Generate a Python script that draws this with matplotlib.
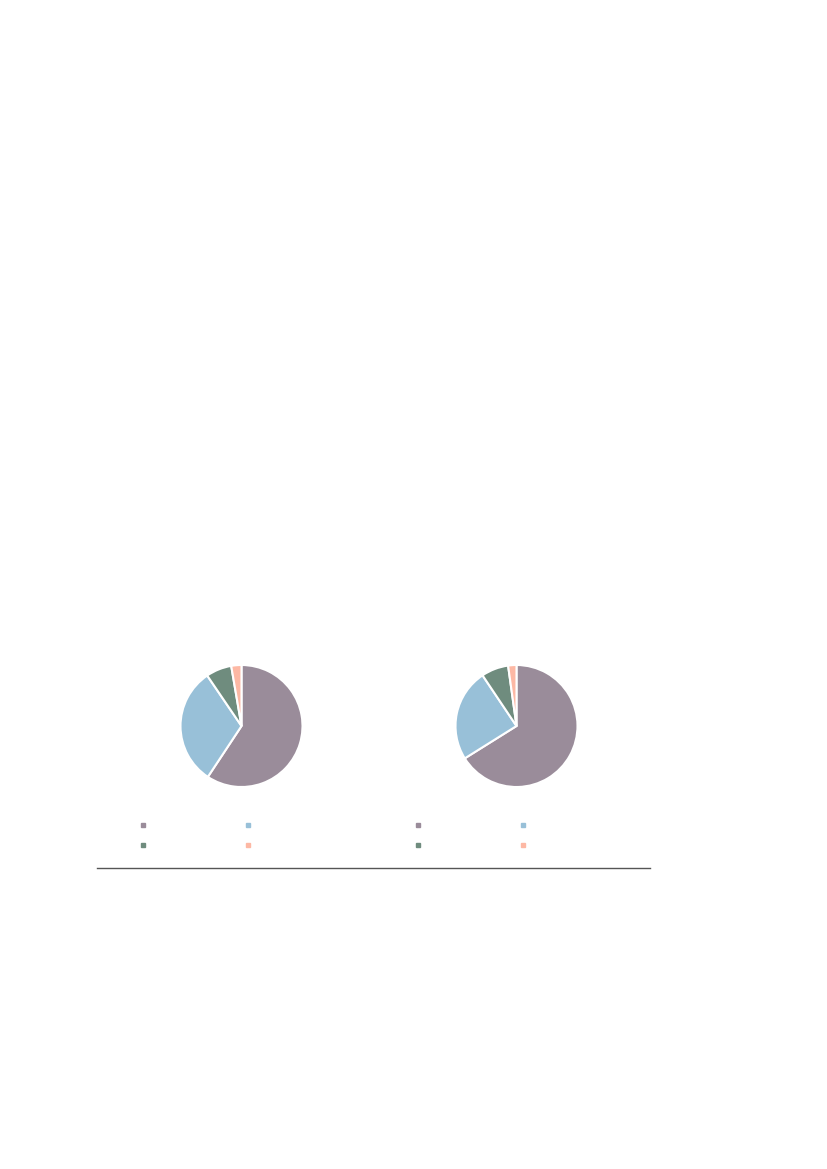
import matplotlib
matplotlib.use("Agg")
import matplotlib.pyplot as plt
from matplotlib.lines import Line2D

# slice shares (%), clockwise from 12 o'clock
categories = ["", "", "", ""]
left_shares = [59.3, 31.2, 6.8, 2.7]
right_shares = [66.1, 24.5, 7.2, 2.2]
colors = ["#9a8c9a", "#98c0d8", "#6f8c7e", "#fdb8a4"]

W, H = 827, 1169
fig = plt.figure(figsize=(W / 100, H / 100), dpi=100)


def px_axes(x0, y0, w, h):
    # axes from pixel box (top-left origin)
    return fig.add_axes([x0 / W, 1 - (y0 + h) / H, w / W, h / H])


def draw_pie(cx, cy, shares):
    r = 61
    ax = px_axes(cx - r, cy - r, 2 * r, 2 * r)
    ax.pie(shares, colors=colors, startangle=90, counterclock=False,
           wedgeprops=dict(edgecolor="white", linewidth=1.5))
    ax.set_xlim(-1.0, 1.0)
    ax.set_ylim(-1.0, 1.0)
    ax.set_aspect("equal")
    ax.axis("off")
    return ax


def draw_legend(x0, y0):
    ax = px_axes(x0, y0, 200, 40)
    ax.axis("off")
    handles = [Line2D([], [], linestyle="none", marker="s", markersize=3,
                      markerfacecolor=c, markeredgecolor=c) for c in colors]
    # legend fills column-wise; reorder so rows read 1,2 / 3,4
    order = [0, 2, 1, 3]
    ax.legend([handles[i] for i in order], [categories[i] for i in order],
              ncol=2, loc="upper left",
              bbox_to_anchor=(0, 1), frameon=False, fontsize=8,
              handlelength=1.0, handletextpad=0.5, columnspacing=7.9,
              labelspacing=0.85, borderaxespad=0, borderpad=0)


draw_pie(241.5, 726, left_shares)
draw_pie(516.5, 726, right_shares)

draw_legend(137.5, 821)
draw_legend(412.5, 821)

# rule under the charts
line_ax = px_axes(0, 0, W, H)
line_ax.set_xlim(0, W)
line_ax.set_ylim(H, 0)
line_ax.axis("off")
line_ax.plot([97, 650], [868, 868], color="#555555", linewidth=1.0)

fig.savefig("out.png", dpi=100, facecolor="white")
